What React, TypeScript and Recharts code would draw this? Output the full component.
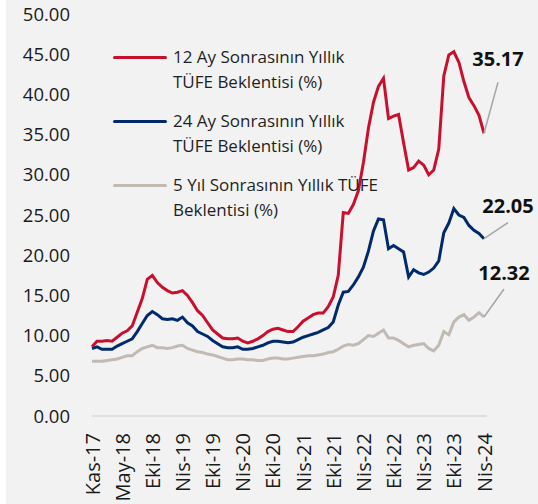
import React from "react";
import { LineChart, Line, XAxis, YAxis, Legend } from "recharts";

// monthly survey categories (Eyl-18 appears twice: extra survey round)
const months = [
  "Kas-17", "Ara-17",
  "Oca-18", "Şub-18", "Mar-18", "Nis-18", "May-18", "Haz-18", "Tem-18", "Ağu-18", "Eyl-18", "Eyl-18", "Eki-18", "Kas-18", "Ara-18",
  "Oca-19", "Şub-19", "Mar-19", "Nis-19", "May-19", "Haz-19", "Tem-19", "Ağu-19", "Eyl-19", "Eki-19", "Kas-19", "Ara-19",
  "Oca-20", "Şub-20", "Mar-20", "Nis-20", "May-20", "Haz-20", "Tem-20", "Ağu-20", "Eyl-20", "Eki-20", "Kas-20", "Ara-20",
  "Oca-21", "Şub-21", "Mar-21", "Nis-21", "May-21", "Haz-21", "Tem-21", "Ağu-21", "Eyl-21", "Eki-21", "Kas-21", "Ara-21",
  "Oca-22", "Şub-22", "Mar-22", "Nis-22", "May-22", "Haz-22", "Tem-22", "Ağu-22", "Eyl-22", "Eki-22", "Kas-22", "Ara-22",
  "Oca-23", "Şub-23", "Mar-23", "Nis-23", "May-23", "Haz-23", "Tem-23", "Ağu-23", "Eyl-23", "Eki-23", "Kas-23", "Ara-23",
  "Oca-24", "Şub-24", "Mar-24", "Nis-24",
];

const ay12 = [
  8.6, 9.3, 9.3, 9.4, 9.3, 9.8, 10.3, 10.6, 11.2, 12.9, 14.6, 17.0, 17.5, 16.6, 16.0, 15.6, 15.3, 15.4, 15.6, 15.0,
  14.1, 13.1, 12.5, 11.6, 10.7, 10.2, 9.7, 9.6, 9.6, 9.7, 9.3, 9.1, 9.3, 9.6, 10.0, 10.5, 10.8, 10.9, 10.7, 10.5,
  10.5, 11.1, 11.8, 12.2, 12.6, 12.8, 12.8, 13.6, 14.8, 17.5, 25.3, 25.2, 26.3, 28.0, 31.5, 35.8, 39.0, 41.0, 42.0, 37.0,
  37.3, 37.5, 34.0, 30.6, 30.9, 31.7, 31.2, 30.0, 30.6, 33.2, 42.3, 44.9, 45.3, 44.0, 41.6, 39.6, 38.6, 37.4, 35.17,
];

const ay24 = [
  8.4, 8.6, 8.3, 8.3, 8.3, 8.7, 9.0, 9.3, 9.6, 10.5, 11.5, 12.5, 13.0, 12.6, 12.1, 12.0, 12.1, 11.9, 12.3, 11.6,
  11.2, 10.5, 10.2, 9.9, 9.4, 9.0, 8.6, 8.5, 8.5, 8.6, 8.3, 8.3, 8.4, 8.6, 8.8, 9.1, 9.3, 9.3, 9.2, 9.1,
  9.2, 9.5, 9.8, 10.0, 10.2, 10.4, 10.7, 11.0, 11.7, 13.8, 15.4, 15.5, 16.3, 17.3, 18.5, 20.5, 23.0, 24.5, 24.4, 20.8,
  21.2, 20.8, 20.4, 17.3, 18.2, 17.8, 17.6, 17.9, 18.4, 19.3, 22.8, 24.0, 25.8, 25.0, 24.7, 23.7, 23.1, 22.7, 22.05,
];

const yil5 = [
  6.8, 6.8, 6.8, 6.9, 7.0, 7.1, 7.3, 7.5, 7.5, 8.0, 8.4, 8.6, 8.8, 8.5, 8.5, 8.4, 8.5, 8.7, 8.8, 8.4,
  8.2, 8.0, 7.9, 7.7, 7.6, 7.4, 7.2, 7.0, 7.0, 7.1, 7.1, 7.0, 7.0, 6.9, 6.9, 7.1, 7.2, 7.2, 7.1, 7.1,
  7.2, 7.3, 7.4, 7.5, 7.5, 7.6, 7.7, 7.9, 8.0, 8.3, 8.7, 8.9, 8.8, 9.0, 9.5, 10.0, 9.9, 10.3, 10.7, 9.7,
  9.7, 9.4, 9.0, 8.6, 8.8, 8.9, 9.0, 8.4, 8.1, 8.8, 10.5, 10.1, 11.7, 12.3, 12.6, 11.9, 12.3, 12.85, 12.32,
];

const yTicks = [0, 5, 10, 15, 20, 25, 30, 35, 40, 45, 50];

const series = [
  { key: "ay12", color: "#c8102e", lines: ["12 Ay Sonrasının Yıllık", "TÜFE Beklentisi (%)"] },
  { key: "ay24", color: "#002a6c", lines: ["24 Ay Sonrasının Yıllık", "TÜFE Beklentisi (%)"] },
  { key: "yil5", color: "#c0bab2", lines: ["5 Yıl Sonrasının Yıllık TÜFE", "Beklentisi (%)"] },
];

const data = months.map((label, i) => ({
  label,
  ay12: ay12[i],
  ay24: ay24[i],
  yil5: yil5[i],
}));

const LAST = months.length - 1;
const FONT = "'Open Sans', 'Noto Sans', sans-serif";

const XTick = ({ x, y, payload }: any) => (
  <text
    x={x}
    y={y}
    transform={`rotate(-90 ${x} ${y})`}
    textAnchor="end"
    dominantBaseline="central"
    fontSize={20}
    fontFamily={FONT}
    fill="#1a1a1a"
  >
    {payload.value}
  </text>
);

const endLabel = (lx: number, ly: number, tx: number, ty: number) => (props: any) => {
  const { x, y, index, value } = props;
  if (index !== LAST) return null;
  return (
    <g>
      <line x1={x} y1={y} x2={x + lx} y2={y + ly} stroke="#a6a6a6" strokeWidth={1.5} />
      <text
        x={x + tx}
        y={y + ty}
        textAnchor="middle"
        dominantBaseline="central"
        fontSize={20}
        fontWeight={700}
        fontFamily={FONT}
        fill="#111"
      >
        {Number(value).toFixed(2)}
      </text>
    </g>
  );
};

const renderLegend = () => (
  <div style={{ fontFamily: FONT, fontSize: 17, color: "#1f1f1f", lineHeight: "24.5px" }}>
    {series.map((s) => (
      <div key={s.key} style={{ display: "flex", alignItems: "flex-start", height: 64 }}>
        <div
          style={{
            width: 54,
            height: 3.5,
            borderRadius: 2,
            background: s.color,
            marginTop: 10.5,
            marginRight: 6,
          }}
        />
        <div style={{ whiteSpace: "nowrap" }}>
          {s.lines[0]}
          <br />
          {s.lines[1]}
        </div>
      </div>
    ))}
  </div>
);

export default function App() {
  return (
    <div style={{ position: "absolute", left: 0, top: 0, width: 538, height: 504, background: "#fff" }}>
      <div style={{ position: "absolute", left: 6, top: 0, width: 532, height: 504, background: "#f2f2f2" }}>
        <LineChart width={532} height={504} data={data} margin={{ top: 14, right: 51, left: 0, bottom: 0 }}>
          <XAxis
            dataKey="label"
            interval={5}
            height={88}
            padding={{ left: 0, right: 3 }}
            axisLine={{ stroke: "#d9d9d9", strokeWidth: 1.5 }}
            tickLine={false}
            tickSize={0}
            tickMargin={17}
            tick={<XTick />}
          />
          <YAxis
            width={86}
            domain={[0, 50]}
            ticks={yTicks}
            axisLine={false}
            tickLine={false}
            tickSize={0}
            tickMargin={22}
            tickFormatter={(v: number) => v.toFixed(2)}
            tick={{ fontSize: 18.5, fontFamily: FONT, fill: "#1a1a1a" }}
          />
          <Legend
            layout="vertical"
            align="center"
            verticalAlign="middle"
            content={renderLegend}
            wrapperStyle={{ top: 45, left: 107, width: 300, height: 192 }}
          />
          <Line
            dataKey="yil5"
            stroke="#c0bab2"
            strokeWidth={3}
            dot={false}
            isAnimationActive={false}
            label={endLabel(20, -28, 20, -44.5)}
          />
          <Line
            dataKey="ay24"
            stroke="#002a6c"
            strokeWidth={3}
            dot={false}
            isAnimationActive={false}
            label={endLabel(24, -16, 24, -33)}
          />
          <Line
            dataKey="ay12"
            stroke="#c8102e"
            strokeWidth={3}
            dot={false}
            isAnimationActive={false}
            label={endLabel(14, -51, 14, -75)}
          />
        </LineChart>
      </div>
    </div>
  );
}
